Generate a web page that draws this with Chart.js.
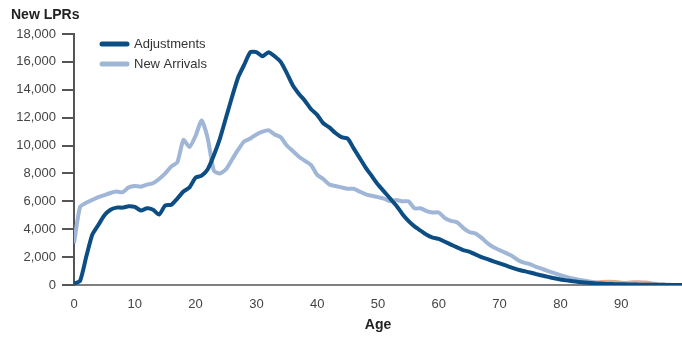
<!DOCTYPE html>
<html>
<head>
<meta charset="utf-8">
<script src="https://cdn.jsdelivr.net/npm/chart.js@4"></script>
<style>
  html, body { margin: 0; padding: 0; background: #fff; }
  #wrap { width: 682px; height: 337px; }
</style>
</head>
<body>
<div id="wrap"><canvas id="grafica" width="682" height="337"></canvas></div>
<script>
// edades 0..100
const ages = Array.from({ length: 101 }, (_, i) => i);

const adjustments = [
  100, 300, 2000, 3600, 4300, 5000, 5400, 5550, 5550, 5650,
  5600, 5350, 5500, 5400, 5050, 5700, 5750, 6200, 6700, 7000,
  7700, 7850, 8300, 9300, 10500, 12000, 13500, 14900, 15800, 16700,
  16700, 16400, 16700, 16400, 16000, 15200, 14300, 13700, 13200, 12600,
  12200, 11600, 11300, 10900, 10600, 10500, 9800, 9100, 8400, 7800,
  7200, 6700, 6200, 5700, 5100, 4600, 4200, 3900, 3600, 3400,
  3300, 3100, 2900, 2700, 2500, 2400, 2200, 2000, 1850, 1700,
  1550, 1400, 1250, 1100, 1000, 900, 780, 680, 580, 480,
  400, 330, 270, 220, 180, 140, 110, 90, 70, 60,
  50, 40, 30, 25, 20, 15, 10, 10, 5, 5, 5
];

const newArrivals = [
  3000, 5600, 5900, 6100, 6300, 6450, 6600, 6700, 6650, 7000,
  7100, 7050, 7200, 7300, 7600, 8000, 8500, 8800, 10400, 9900,
  10700, 11800, 10500, 8200, 8000, 8300, 9000, 9700, 10300, 10500,
  10800, 11000, 11100, 10800, 10600, 10000, 9600, 9200, 8900, 8600,
  7900, 7600, 7200, 7100, 7000, 6900, 6900, 6700, 6500, 6400,
  6300, 6200, 6000, 6100, 6000, 6000, 5500, 5500, 5300, 5200,
  5200, 4800, 4600, 4500, 4100, 3800, 3700, 3400, 3000, 2700,
  2500, 2300, 2100, 1800, 1600, 1500, 1300, 1150, 1000, 850,
  700, 580, 470, 380, 300, 230, 170, 130, 100, 80,
  60, 50, 40, 30, 25, 20, 15, 10, 10, 5, 5
];

// serie sin leyenda que asoma entre 86 y 95
const otros = [
  null, null, null, null, null, null, null, null, null, null,
  null, null, null, null, null, null, null, null, null, null,
  null, null, null, null, null, null, null, null, null, null,
  null, null, null, null, null, null, null, null, null, null,
  null, null, null, null, null, null, null, null, null, null,
  null, null, null, null, null, null, null, null, null, null,
  null, null, null, null, null, null, null, null, null, null,
  null, null, null, null, null, null, null, null, null, null,
  null, null, null, null, null, 150, 220, 260, 270, 250,
  200, 190, 230, 240, 210, 150, 80, null, null, null, null
];

const yTicks = [0, 2000, 4000, 6000, 8000, 10000, 12000, 14000, 16000, 18000];
const xTicks = [0, 10, 20, 30, 40, 50, 60, 70, 80, 90];

const colorAdj = '#0c4e84';
const colorNew = '#9fb6d6';
const colorOtros = '#e6a98a';
const fuente = '"Liberation Sans", Arial, sans-serif';

function puntos(valores) {
  return ages.map((a, i) => ({ x: a, y: valores[i] }));
}

// titulo y leyenda dibujados a mano
const textos = {
  id: 'textos',
  afterDraw(chart) {
    const ctx = chart.ctx;
    ctx.save();
    ctx.fillStyle = '#222';
    ctx.font = 'bold 14px ' + fuente;
    ctx.textBaseline = 'middle';
    ctx.textAlign = 'left';
    ctx.fillText('New LPRs', 11, 15);

    const items = [
      { label: 'Adjustments', color: colorAdj, y: 44 },
      { label: 'New Arrivals', color: colorNew, y: 64 }
    ];
    items.forEach(it => {
      ctx.strokeStyle = it.color;
      ctx.lineWidth = 5;
      ctx.lineCap = 'round';
      ctx.beginPath();
      ctx.moveTo(102, it.y);
      ctx.lineTo(127, it.y);
      ctx.stroke();
      ctx.fillStyle = '#333';
      ctx.font = '13px ' + fuente;
      ctx.fillText(it.label, 134, it.y);
    });
    ctx.restore();
  }
};

const ctx = document.getElementById('grafica').getContext('2d');
new Chart(ctx, {
  type: 'line',
  data: {
    datasets: [
      {
        label: 'Otros',
        data: puntos(otros),
        borderColor: colorOtros,
        borderWidth: 3,
        pointRadius: 0,
        tension: 0.3,
        spanGaps: false,
        order: 3
      },
      {
        label: 'New Arrivals',
        data: puntos(newArrivals),
        borderColor: colorNew,
        borderWidth: 4,
        pointRadius: 0,
        tension: 0.2,
        order: 2
      },
      {
        label: 'Adjustments',
        data: puntos(adjustments),
        borderColor: colorAdj,
        borderWidth: 4,
        pointRadius: 0,
        tension: 0.2,
        order: 1
      }
    ]
  },
  options: {
    responsive: false,
    animation: false,
    layout: { padding: { top: 34, right: 0, left: 0, bottom: 0 } },
    plugins: {
      legend: { display: false },
      tooltip: { enabled: false },
      title: { display: false }
    },
    scales: {
      x: {
        type: 'linear',
        min: 0,
        max: 100,
        afterFit: s => { s.height = 52; },
        afterBuildTicks: s => { s.ticks = xTicks.map(v => ({ value: v })); },
        border: { color: '#808080', width: 2 },
        grid: { display: false, drawTicks: false },
        ticks: {
          color: '#444',
          font: { family: fuente, size: 13 },
          padding: 12,
          maxRotation: 0
        },
        title: {
          display: true,
          text: 'Age',
          color: '#222',
          font: { family: fuente, size: 14, weight: 'bold' },
          padding: { top: 0, bottom: 3 }
        }
      },
      y: {
        min: 0,
        max: 18000,
        afterFit: s => { s.width = 74; },
        afterBuildTicks: s => { s.ticks = yTicks.map(v => ({ value: v })); },
        border: { color: '#555', width: 2 },
        grid: {
          drawOnChartArea: false,
          drawTicks: true,
          tickLength: 12,
          tickColor: '#555',
          lineWidth: 2
        },
        ticks: {
          color: '#444',
          font: { family: fuente, size: 13 },
          padding: 6,
          callback: v => v.toLocaleString('en-US')
        }
      }
    }
  },
  plugins: [textos]
});
</script>
</body>
</html>
